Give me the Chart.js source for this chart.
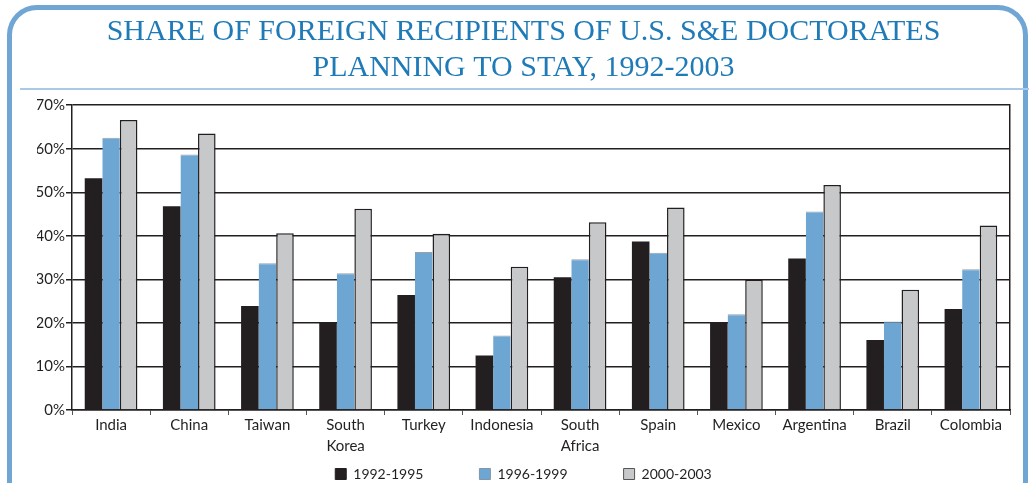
<!DOCTYPE html>
<html>
<head>
<meta charset="utf-8">
<script src="https://cdn.jsdelivr.net/npm/chart.js@4"></script>
<style>
  html, body { margin: 0; padding: 0; background: #fff; overflow: hidden; }
  #frame {
    position: absolute; left: 7px; top: 5px; width: 1021px; height: 540px;
    border: 5px solid #6fa6d4; border-radius: 30px; box-sizing: border-box;
  }
  #headerLine {
    position: absolute; left: 20px; top: 88px; width: 1009px; height: 2px;
    background: #a9c9e6;
  }
  #userDataChart { position: absolute; left: 0; top: 0; }
</style>
</head>
<body>
<div id="frame"></div>
<div id="headerLine"></div>
<canvas id="userDataChart" width="1029" height="483"></canvas>
<script>
// Countries along the x axis
const countries = ['India', 'China', 'Taiwan', ['South', 'Korea'], 'Turkey', 'Indonesia',
    ['South', 'Africa'], 'Spain', 'Mexico', 'Argentina', 'Brazil', 'Colombia'];
// Share planning to stay (%), one list per period
const stay1992to1995 = [53.2, 46.8, 23.9, 20.2, 26.4, 12.5, 30.5, 38.7, 20.0, 34.8, 16.1, 23.2];
const stay1996to1999 = [62.5, 58.7, 33.7, 31.4, 36.3, 17.1, 34.6, 36.1, 22.0, 45.6, 20.3, 32.3];
const stay2000to2003 = [66.6, 63.5, 40.6, 46.2, 40.5, 32.9, 43.1, 46.5, 29.9, 51.7, 27.6, 42.4];
const periodLabels = ['1992-1995', '1996-1999', '2000-2003'];
const titleLines = ['SHARE OF FOREIGN RECIPIENTS OF U.S. S&E DOCTORATES', 'PLANNING TO STAY, 1992-2003'];

const ink = '#231f20';
const legendBorders = [ink, '#8496a5', '#555555'];
const axisFont = { family: 'Lato', size: 15, lineHeight: 1.4 };

// The legend item spacing comes from labels.padding, which also pushes the
// row down; pull the row back up so it sits just under the x labels.
const legendLift = {
    id: 'legendLift',
    afterLayout(chart) {
        const legend = chart.legend;
        const pad = legend.options.labels.padding;
        legend.top = chart.scales.x.bottom + 10 - pad;
    }
};

document.addEventListener("DOMContentLoaded", function() {
    var ctx = document.getElementById('userDataChart').getContext('2d');

    new Chart(ctx, {
        type: 'bar',
        data: {
            labels: countries,
            datasets: [
                {
                    label: periodLabels[0],
                    data: stay1992to1995,
                    backgroundColor: ink,
                    borderWidth: 0
                },
                {
                    label: periodLabels[1],
                    data: stay1996to1999,
                    backgroundColor: '#6ea6d3',
                    borderColor: '#95a3ae',
                    borderWidth: { top: 1, left: 0, right: 0, bottom: 0 }
                },
                {
                    label: periodLabels[2],
                    data: stay2000to2003,
                    backgroundColor: '#c7c8ca',
                    borderColor: ink,
                    borderWidth: 1.5
                }
            ]
        },
        options: {
            responsive: false,
            animation: false,
            devicePixelRatio: 1,
            layout: { padding: { left: 37, right: 19, top: 0, bottom: 0 } },
            datasets: {
                bar: { categoryPercentage: 0.674, barPercentage: 1.0 }
            },
            scales: {
                x: {
                    grid: {
                        drawOnChartArea: false,
                        drawTicks: true,
                        tickLength: 5,
                        color: '#555555',
                        lineWidth: 1
                    },
                    border: { color: ink, width: 1.5 },
                    ticks: { font: axisFont, color: ink, padding: 0 }
                },
                y: {
                    min: 0,
                    max: 70,
                    afterFit: scale => { scale.width = 35; },
                    grid: { color: ink, lineWidth: 1.5, tickLength: 6 },
                    border: { color: ink, width: 1.5 },
                    ticks: {
                        stepSize: 10,
                        padding: 1,
                        font: axisFont,
                        color: ink,
                        callback: value => value + '%'
                    }
                },
                // right hand border of the plot box
                yRight: {
                    position: 'right',
                    min: 0,
                    max: 70,
                    afterFit: scale => { scale.width = 0; },
                    grid: { display: false },
                    border: { color: ink, width: 1.5 },
                    ticks: { display: false }
                }
            },
            plugins: {
                title: {
                    display: true,
                    text: titleLines,
                    color: '#1f7bb8',
                    font: { family: 'Liberation Serif', size: 30, weight: 'normal', lineHeight: 1.17 },
                    padding: { top: 15, bottom: 20 }
                },
                legend: {
                    position: 'bottom',
                    maxHeight: 26,
                    labels: {
                        font: { family: 'Lato', size: 14 },
                        color: ink,
                        boxWidth: 11,
                        boxHeight: 11,
                        padding: 56,
                        generateLabels: chart => {
                            const items = Chart.defaults.plugins.legend.labels.generateLabels(chart);
                            items.forEach((item, i) => {
                                item.lineWidth = 1;
                                item.strokeStyle = legendBorders[i];
                            });
                            return items;
                        }
                    }
                },
                tooltip: { enabled: false }
            }
        },
        plugins: [legendLift]
    });
});
</script>
</body>
</html>
